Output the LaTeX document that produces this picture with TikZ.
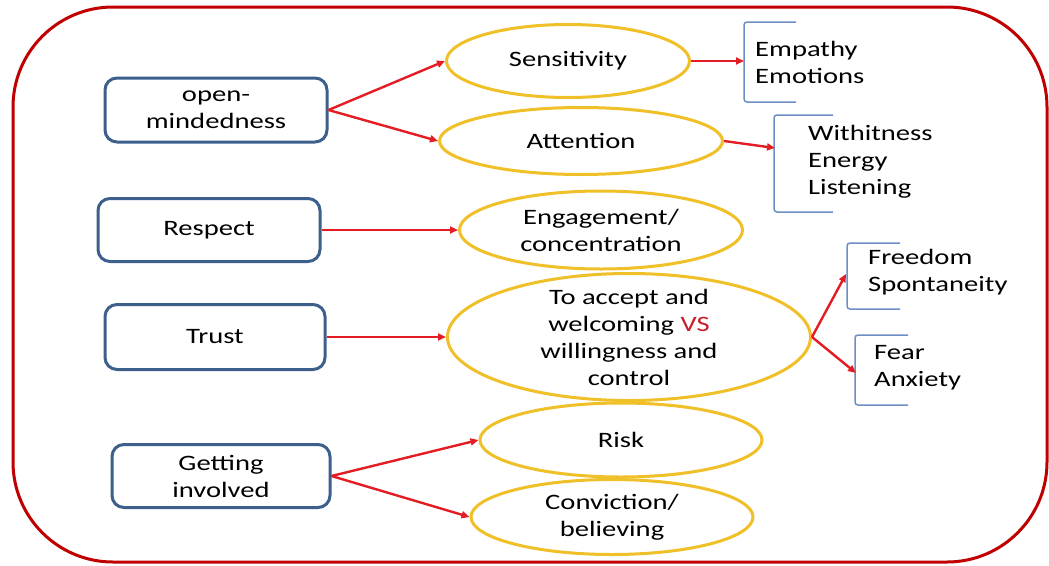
\documentclass[tikz,border=0pt]{standalone}
\usepackage{fontspec}
\setmainfont{Carlito}[FakeStretch=1.3]
\usetikzlibrary{shapes.geometric,arrows.meta}
\definecolor{framered}{RGB}{192,0,0}
\definecolor{boxblue}{RGB}{60,95,140}
\definecolor{gold}{RGB}{240,192,40}
\definecolor{arrred}{RGB}{228,28,36}
\definecolor{brblue}{RGB}{110,143,196}
\definecolor{vsred}{RGB}{200,30,40}
\begin{document}
\begin{tikzpicture}[x=1pt,y=-1pt,
  font=\fontsize{22}{27}\selectfont,
  box/.style={draw=boxblue, line width=3pt, rounded corners=12pt, fill=white, align=center, inner sep=0pt},
  oval/.style={draw=gold, ellipse, line width=3pt, fill=white, inner sep=0pt},
  txt/.style={align=center, inner sep=0pt},
  link/.style={draw=arrred, line width=2.4pt, -{Triangle[length=8pt,width=7pt]}},
  brace/.style={draw=brblue, line width=1.5pt, rounded corners=3pt},
  lbl/.style={anchor=west, align=left, inner sep=0pt}]
\useasboundingbox (0,0) rectangle (1049,565);
\fill[white] (0,0) rectangle (1049,565);
\draw[framered, line width=3pt, rounded corners=100pt] (13,7) rectangle (1047,562);

% left boxes
\node[box, minimum width=222pt, minimum height=64pt] (om) at (216,110) {open-\\mindedness};
\node[box, minimum width=222pt, minimum height=63pt] (resp) at (209,230) {Respect};
\node[box, minimum width=220pt, minimum height=65pt] (trust) at (215,337) {Trust};
\node[box, minimum width=218pt, minimum height=63pt] (gi) at (221,476) {Getting\\involved};

% ellipses
\node[oval, minimum width=243pt, minimum height=73pt] (sens) at (568,61) {};
\node[txt] (senst) at (sens) {Sensitivity};
\node[oval, minimum width=283pt, minimum height=67pt] (att) at (581,141) {};
\node[txt] (attt) at (att) {Attention};
\node[oval, minimum width=283pt, minimum height=78pt] (eng) at (601,230) {};
\node[txt] (engt) at (eng) {Engagement/\\concentration};
\node[oval, minimum width=363pt, minimum height=127pt] (acc) at (629,337) {};
\node[txt] (acct) at (acc) {To accept and\\welcoming \textcolor{vsred}{VS}\\willingness and\\control};
\node[oval, minimum width=282pt, minimum height=74pt] (risk) at (621,440) {};
\node[txt] (riskt) at (risk) {Risk};
\node[oval, minimum width=282pt, minimum height=75pt] (conv) at (612,517) {};
\node[txt] (convt) at (conv) {Conviction/\\believing};

% brackets
\draw[brace] (796,22) -- (744,22) -- (744,102) -- (796,102);
\draw[brace] (833,115) -- (774,115) -- (774,212) -- (833,212);
\draw[brace] (900,243) -- (847,243) -- (847,309) -- (900,309);
\draw[brace] (908,335) -- (855,335) -- (855,405) -- (908,405);
\coordinate (b1) at (744,61);
\coordinate (b2) at (775,148);
\coordinate (b3) at (846,274);
\coordinate (b4) at (856,373);

% bracket texts
\node[lbl] (emp) at (755,62) {Empathy\\Emotions};
\node[lbl] (with) at (808,162) {Withitness\\Energy\\Listening};
\node[lbl] (free) at (868,272) {Freedom\\Spontaneity};
\node[lbl] (fear) at (874,368) {Fear\\Anxiety};

% connectors
\draw[link] (om.east) -- (sens.west);
\draw[link] (om.east) -- (att.west);
\draw[link] (resp.east) -- (eng.west);
\draw[link] (trust.east) -- (acc.west);
\draw[link] (gi.east) -- (risk.west);
\draw[link] (gi.east) -- (conv.west);
\draw[link] (sens.east) -- (b1);
\draw[link] (att.east) -- (b2);
\draw[link] (acc.east) -- (b3);
\draw[link] (acc.east) -- (b4);
\end{tikzpicture}
\end{document}
